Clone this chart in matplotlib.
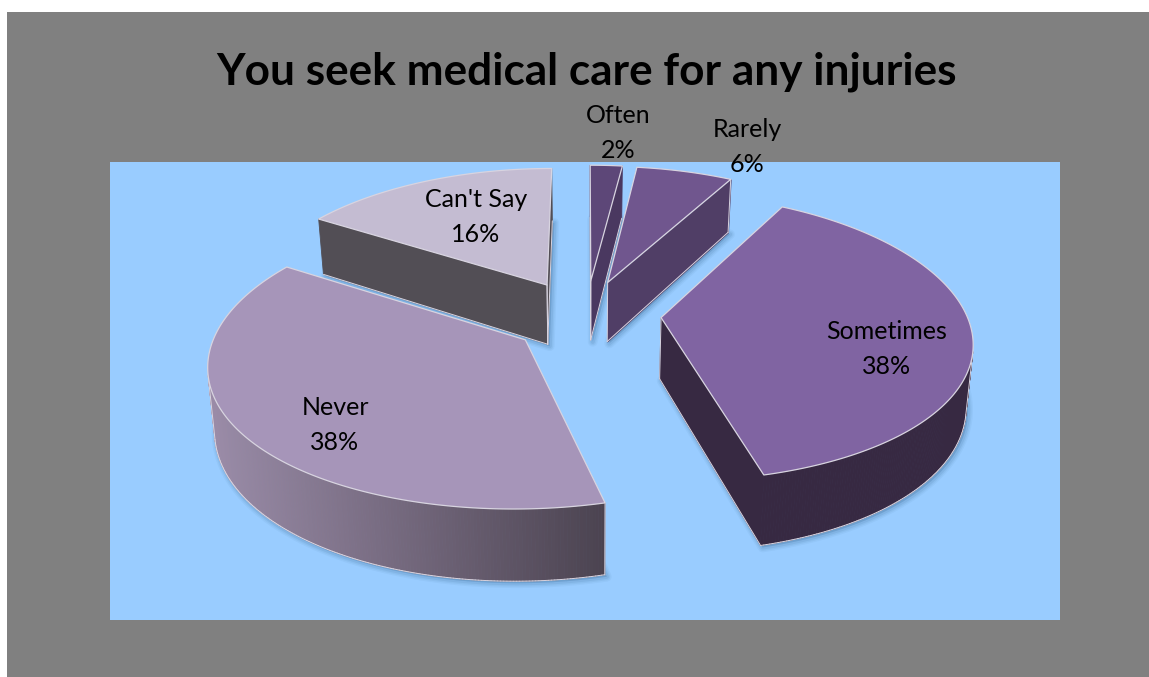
#!/usr/bin/env python3
import numpy as np
import matplotlib
matplotlib.use('Agg')
import matplotlib.pyplot as plt
from matplotlib.patches import Rectangle, Polygon
from matplotlib.collections import PolyCollection

# Survey answers, clockwise from twelve o'clock
categories = ['Often', 'Rarely', 'Sometimes', 'Never', "Can't Say"]
shares = [2, 6, 38, 38, 16]
title = 'You seek medical care for any injuries'

# Colours per slice
C_TOP = ['#5d4778', '#70568e', '#8064a2', '#a695b9', '#c4bcd2']
C_WALL_A = ['#4a3860', '#503e66', '#372942', '#4b4350', '#524e55']
C_WALL_B = ['#4a3860', '#503e66', '#372942', '#9b8ca8', '#524e55']
C_EDGE = '#d8d4e0'
LABEL_POS = [(618, 133), (747, 147), (887, 349), (335, 425), (476, 217)]
NUDGE = [(0, 0), (-2, 0), (-4, -3), (5, 2), (-2, 0)]

# Camera settings for the tilted pie
CX, CY = 586, 316
RX, RY = 305, 140
PX, PY = 0.15, 0.1345
DEPTH = 61
SHRINK = 0.018
EXPLODE = 0.26


def project(x, y, bottom=False):
    sx = CX + RX * x / (1 - PX * y)
    sy = CY + RY * y / (1 - PY * y)
    if bottom:
        sx = CX + (sx - CX) * (1 - SHRINK)
        sy = sy + DEPTH / (1 - PY * y)
    return np.column_stack([sx, sy])


def slice_outline(a0, a1):
    # apex first, then the rim; angles run clockwise from north
    mid = np.radians((a0 + a1) / 2)
    ox, oy = EXPLODE * np.sin(mid), -EXPLODE * np.cos(mid)
    t = np.radians(np.linspace(a0, a1, max(3, int(a1 - a0) * 2)))
    x = np.concatenate([[ox], ox + np.sin(t)])
    y = np.concatenate([[oy], oy - np.cos(t)])
    return x, y


fig = plt.figure(figsize=(11.49, 6.77), dpi=100, facecolor='white')
ax = fig.add_axes([0, 0, 1, 1])
ax.set_xlim(0, 1149)
ax.set_ylim(677, 0)
ax.axis('off')

ax.add_patch(Rectangle((7, 12), 1142, 665, fc='#808080', ec='none', zorder=0))
plot_bg = Rectangle((110, 162), 950, 458, fc='#99ccff', ec='none', zorder=1)
ax.add_patch(plot_bg)

ax.text(586, 72, title, ha='center', va='center', fontsize=31.8,
        fontweight='bold', family='Lato', color='black', zorder=20)

order = [4, 0, 1, 2, 3]  # back to front
edges = np.cumsum([0] + shares) * 3.6
z = 3
for i in order:
    x, y = slice_outline(edges[i], edges[i + 1])
    top = project(x, y) + NUDGE[i]
    low = project(x, y, bottom=True) + NUDGE[i]

    # soft shadow under the slice
    for lw, alpha in ((7, 0.05), (5, 0.07), (3, 0.1)):
        s = Polygon(low + [2, 2], closed=True, fc='#2a5a85', ec='#2a5a85',
                    lw=lw, alpha=alpha, joinstyle='round', zorder=z)
        ax.add_patch(s)
        s.set_clip_path(plot_bg)
    z += 1

    # side walls, only the ones facing the camera
    quads, cols = [], []
    n = len(top)
    a = np.array(matplotlib.colors.to_rgb(C_WALL_A[i]))
    b = np.array(matplotlib.colors.to_rgb(C_WALL_B[i]))
    xmin, xmax = top[:, 0].min(), top[:, 0].max()
    for k in range(n):
        p, q = top[k], top[(k + 1) % n]
        p2, q2 = low[k], low[(k + 1) % n]
        d = q - p
        dn = p2 - p
        if d[0] * dn[1] - d[1] * dn[0] >= 0:
            continue
        quads.append([p, q, q2, p2])
        f = ((p[0] + q[0]) / 2 - xmin) / (xmax - xmin)
        cols.append(a + (b - a) * (1 - f))
    if quads:
        ax.add_collection(PolyCollection(quads, facecolors=cols, edgecolors=cols,
                                         linewidths=0.6, zorder=z))
        z += 1
        for q in quads:
            ax.plot([q[3][0], q[2][0]], [q[3][1], q[2][1]], color=C_EDGE, lw=0.7,
                    zorder=z, solid_capstyle='round')
        ax.plot([quads[0][0][0], quads[0][3][0]], [quads[0][0][1], quads[0][3][1]],
                color=C_EDGE, lw=0.7, zorder=z)
        ax.plot([quads[-1][1][0], quads[-1][2][0]], [quads[-1][1][1], quads[-1][2][1]],
                color=C_EDGE, lw=0.7, zorder=z)
    z += 1

    ax.add_patch(Polygon(top, closed=True, fc=C_TOP[i], ec=C_EDGE, lw=0.9,
                         joinstyle='round', zorder=z))
    z += 1

for name, val, (lx, ly) in zip(categories, shares, LABEL_POS):
    ax.text(lx, ly, f'{name}\n{val}%', ha='center', va='center', fontsize=18,
            family='Lato', color='black', linespacing=1.68, zorder=30)

plt.savefig('out.png', dpi=100)
